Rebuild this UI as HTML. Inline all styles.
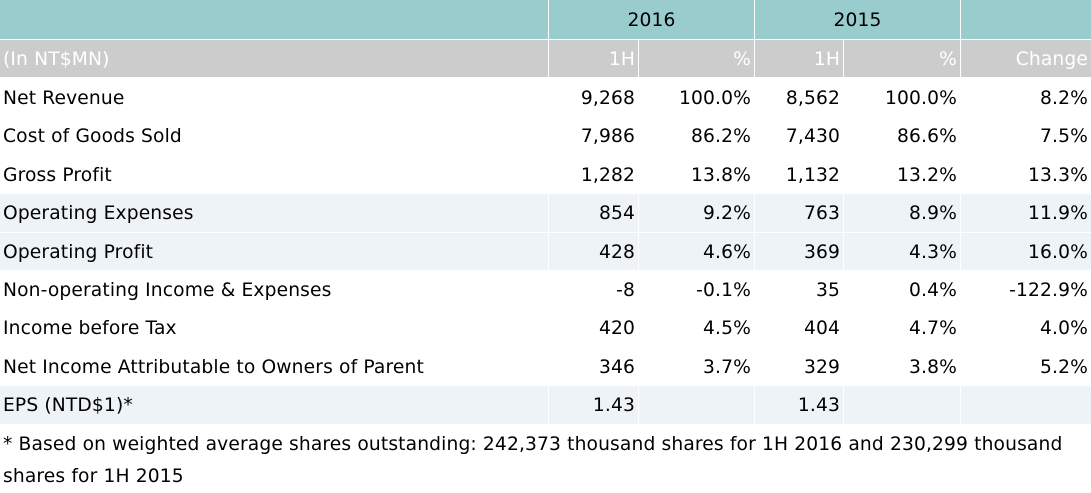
<!DOCTYPE html>
<html>
<head>
<meta charset="utf-8">
<style>
  html, body { margin:0; padding:0; background:#fff; }
  body { width:1091px; height:493px; position:relative; overflow:hidden;
         font-family:"DejaVu Sans", Verdana, sans-serif; font-size:18.67px; color:#000; letter-spacing:0.14px; }
  .row { position:absolute; left:0; width:1091px; }
  .c { position:absolute; top:0; height:100%; box-sizing:border-box; white-space:nowrap; padding-top:1px; }
  .r { text-align:right; padding-right:3px; }
  .l { text-align:left; padding-left:3px; }
  .ctr { text-align:center; }
  .h1 .c { background:#99CCCC; }
  .h2 .c { background:#CCCCCC; color:#fff; }
  .band .c { background:#EEF3F7; }
  .A { left:0; width:548px; }
  .B { left:549px; width:89px; }
  .C { left:639px; width:115px; }
  .D { left:755px; width:88px; }
  .E { left:844px; width:116px; }
  .F { left:961px; width:130px; }
  .BC { left:549px; width:205px; }
  .DE { left:755px; width:205px; }
  .foot { position:absolute; left:3px; top:429px; line-height:32px; white-space:nowrap; }
</style>
</head>
<body>

<div class="row h1" style="top:0;height:39px;line-height:39px;">
  <div class="c A"></div>
  <div class="c BC ctr">2016</div>
  <div class="c DE ctr">2015</div>
  <div class="c F"></div>
</div>

<div class="row h2" style="top:40px;height:37px;line-height:37px;">
  <div class="c A l">(In NT$MN)</div>
  <div class="c B r">1H</div>
  <div class="c C r">%</div>
  <div class="c D r">1H</div>
  <div class="c E r">%</div>
  <div class="c F r">Change</div>
</div>

<div class="row" style="top:79px;height:37px;line-height:37px;">
  <div class="c A l">Net Revenue</div>
  <div class="c B r">9,268</div>
  <div class="c C r">100.0%</div>
  <div class="c D r">8,562</div>
  <div class="c E r">100.0%</div>
  <div class="c F r">8.2%</div>
</div>

<div class="row" style="top:117px;height:38px;line-height:38px;">
  <div class="c A l">Cost of Goods Sold</div>
  <div class="c B r">7,986</div>
  <div class="c C r">86.2%</div>
  <div class="c D r">7,430</div>
  <div class="c E r">86.6%</div>
  <div class="c F r">7.5%</div>
</div>

<div class="row" style="top:156px;height:37px;line-height:37px;">
  <div class="c A l">Gross Profit</div>
  <div class="c B r">1,282</div>
  <div class="c C r">13.8%</div>
  <div class="c D r">1,132</div>
  <div class="c E r">13.2%</div>
  <div class="c F r">13.3%</div>
</div>

<div class="row band" style="top:194px;height:38px;line-height:38px;">
  <div class="c A l">Operating Expenses</div>
  <div class="c B r">854</div>
  <div class="c C r">9.2%</div>
  <div class="c D r">763</div>
  <div class="c E r">8.9%</div>
  <div class="c F r">11.9%</div>
</div>

<div class="row band" style="top:233px;height:37px;line-height:37px;">
  <div class="c A l">Operating Profit</div>
  <div class="c B r">428</div>
  <div class="c C r">4.6%</div>
  <div class="c D r">369</div>
  <div class="c E r">4.3%</div>
  <div class="c F r">16.0%</div>
</div>

<div class="row" style="top:271px;height:37px;line-height:37px;">
  <div class="c A l">Non-operating Income &amp; Expenses</div>
  <div class="c B r">-8</div>
  <div class="c C r">-0.1%</div>
  <div class="c D r">35</div>
  <div class="c E r">0.4%</div>
  <div class="c F r">-122.9%</div>
</div>

<div class="row" style="top:309px;height:38px;line-height:38px;">
  <div class="c A l">Income before Tax</div>
  <div class="c B r">420</div>
  <div class="c C r">4.5%</div>
  <div class="c D r">404</div>
  <div class="c E r">4.7%</div>
  <div class="c F r">4.0%</div>
</div>

<div class="row" style="top:348px;height:37px;line-height:37px;">
  <div class="c A l">Net Income Attributable to Owners of Parent</div>
  <div class="c B r">346</div>
  <div class="c C r">3.7%</div>
  <div class="c D r">329</div>
  <div class="c E r">3.8%</div>
  <div class="c F r">5.2%</div>
</div>

<div class="row band" style="top:386px;height:38px;line-height:38px;">
  <div class="c A l">EPS (NTD$1)*</div>
  <div class="c B r">1.43</div>
  <div class="c C r"></div>
  <div class="c D r">1.43</div>
  <div class="c E r"></div>
  <div class="c F r"></div>
</div>

<div class="foot">* Based on weighted average shares outstanding: 242,373 thousand shares for 1H 2016 and 230,299 thousand<br>shares for 1H 2015</div>

</body>
</html>
